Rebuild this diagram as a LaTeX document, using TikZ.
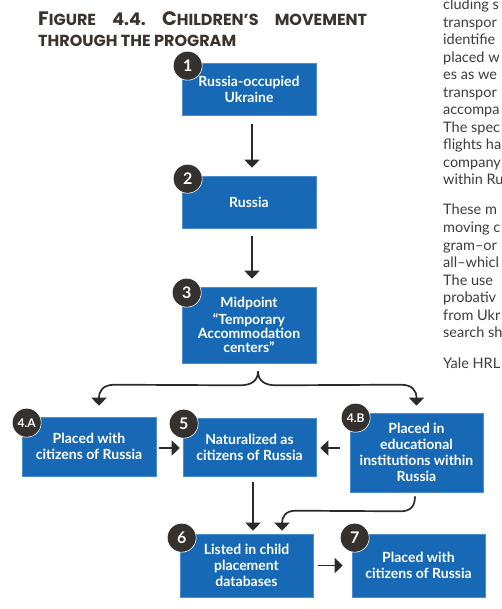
\documentclass[tikz,border=0pt]{standalone}
\usepackage{fontspec}
\setmainfont{Lato}
\newfontfamily\titlefont{Poppins}
\usetikzlibrary{arrows.meta,calc}

\definecolor{boxblue}{HTML}{1769B5}
\definecolor{boxedge}{HTML}{4C8DD0}
\definecolor{numdark}{HTML}{35312E}
\definecolor{arrowdark}{HTML}{2B2B2B}
\definecolor{titlecol}{HTML}{3A332E}
\definecolor{bodycol}{HTML}{3C3C3C}

\newcommand\TitBig[1]{{\fontsize{19.5}{19.5}\selectfont #1}}
\newcommand\TitSm[1]{{\fontsize{16}{16}\selectfont #1}}
\newcommand\TitNum[1]{{\fontsize{17.5}{17.5}\selectfont #1}}

\tikzset{
  stepbox/.style={rectangle, fill=boxblue, draw=boxedge, line width=0.6pt,
    text=white, font=\bfseries\fontsize{14}{16}\selectfont, align=center,
    minimum width=134pt, inner sep=2pt},
  numcircle/.style={circle, fill=numdark, draw=white, line width=0.6pt,
    text=white, font=\bfseries\fontsize{16}{16}\selectfont,
    minimum size=29pt, inner sep=0pt},
  flow/.style={draw=arrowdark, line width=1.7pt,
    -{Triangle[width=15pt,length=8pt]}},
  bodytext/.style={anchor=base west, text=bodycol,
    font=\fontsize{14.5}{17}\selectfont, inner sep=0pt},
  titletext/.style={anchor=base west, text=titlecol, inner sep=0pt,
    font=\titlefont\bfseries\frenchspacing},
}

\begin{document}
\begin{tikzpicture}[x=1pt,y=-1pt]
\useasboundingbox (0,0) rectangle (502,609);
\clip (0,0) rectangle (502,609);

% title
\node[titletext] (t1) at (38,26) {\makebox[329pt][s]{\TitBig{F}\TitSm{IGURE}\TitSm{ }\TitNum{4.4.}\TitSm{ }\TitBig{C}\TitSm{HILDREN’S}\TitSm{ }\TitSm{MOVEMENT}}};
\node[titletext] (t2) at (38,47) {\TitSm{THROUGH THE PROGRAM}};

% boxes
\node[stepbox, minimum height=52pt] (b1) at (249,89) {Russia-occupied\\Ukraine};
\node[stepbox, minimum height=52pt] (b2) at (249,202) {Russia};
\node[stepbox, minimum height=76pt] (b3) at (249,325) {Midpoint\\[1pt]“Temporary\\[-2pt]Accommodation\\[-2pt]centers”};
\node[stepbox, minimum height=59pt] (b4a) at (89,446.5) {Placed with\\citizens of Russia};
\node[stepbox, minimum width=133pt, minimum height=58pt] (b5) at (249.5,447) {Naturalized as\\citizens of Russia};
\node[stepbox, minimum width=133pt, minimum height=79pt] (b4b) at (416.5,452.5) {Placed in\\educational\\institutions within\\Russia};
\node[stepbox, minimum width=133pt, minimum height=63pt] (b6) at (246.5,565.5) {Listed in child\\placement\\databases};
\node[stepbox, minimum width=133pt, minimum height=63pt] (b7) at (418.5,565.5) {Placed with\\citizens of Russia};

% number badges
\node[numcircle] (c1) at ($(b1.north west)+(6,3)$) {1};
\node[numcircle] (c2) at ($(b2.north west)+(6,3)$) {2};
\node[numcircle] (c3) at ($(b3.north west)+(5,6)$) {3};
\node[numcircle, font=\bfseries\fontsize{12}{12}\selectfont] (c4a) at ($(b4a.north west)+(5,6)$) {4.A};
\node[numcircle] (c5) at ($(b5.north west)+(1,6)$) {5};
\node[numcircle, font=\bfseries\fontsize{12}{12}\selectfont] (c4b) at ($(b4b.north west)+(6,5)$) {4.B};
\node[numcircle] (c6) at ($(b6.north west)+(2,4)$) {6};
\node[numcircle] (c7) at ($(b7.north west)+(3,4)$) {7};

% connectors
\draw[flow] ($(b1.south)+(3,9)$) -- ($(b2.north)+(3,-8)$);
\draw[flow] ($(b2.south)+(3,8)$) -- ($(b3.north)+(3,-8)$);

\coordinate (brtip) at ($(b3.south)+(9,8)$);
\draw[flow] (brtip) .. controls ($(brtip)+(0,9)$) and ($(brtip)+(-6,14)$) .. ($(brtip)+(-18,14)$)
  -- ($(b4a.north)+(26,-32)$) .. controls ($(b4a.north)+(14,-32)$) and ($(b4a.north)+(10,-26)$) .. ($(b4a.north)+(10,-11)$);
\draw[flow] (brtip) .. controls ($(brtip)+(0,9)$) and ($(brtip)+(6,14)$) .. ($(brtip)+(18,14)$)
  -- ($(b4b.north)+(-16,-28)$) .. controls ($(b4b.north)+(-4,-28)$) and ($(b4b.north)+(0,-22)$) .. ($(b4b.north)+(0,-7)$);

\draw[flow] ($(b4a.east)+(3,1.5)$) -- ($(b5.west)+(-3,1)$);
\draw[flow] ($(b4b.west|-b5.east)+(-10,1)$) -- ($(b5.east)+(4,1)$);

\draw[flow] ($(b5.south)+(3.5,6)$) -- ($(b6.north)+(6.5,-3)$);
\draw[flow] ($(b4b.south)+(-1.5,4)$) .. controls ($(b4b.south)+(-1.5,14)$) and ($(b4b.south)+(-6,19)$) .. ($(b4b.south)+(-16,19)$)
  -- ($(b6.north)+(49,-23)$) .. controls ($(b6.north)+(39,-23)$) and ($(b6.north)+(35.5,-17)$) .. ($(b6.north)+(35.5,-3)$);

\draw[flow] ($(b6.east)+(5,0)$) -- ($(b7.west)+(-9,0)$);

% body text (cut at the right edge)
\foreach \t [count=\i] in {cluding s,transpor,identifie,placed w,es as we,transpor,accompa,The spec,flights ha,company,within Ru}
  \node[bodytext] (pa\i) at (443,{10+17.5*(\i-1)}) {\t};
\foreach \t [count=\i] in {These m,moving c,gram–or,all–whicl,The use,probativ,from Ukr,search sh}
  \node[bodytext] (pb\i) at (443,{215+17.57*(\i-1)}) {\t};
\node[bodytext] (pc1) at (443,368) {Yale HRL};
\end{tikzpicture}
\end{document}
